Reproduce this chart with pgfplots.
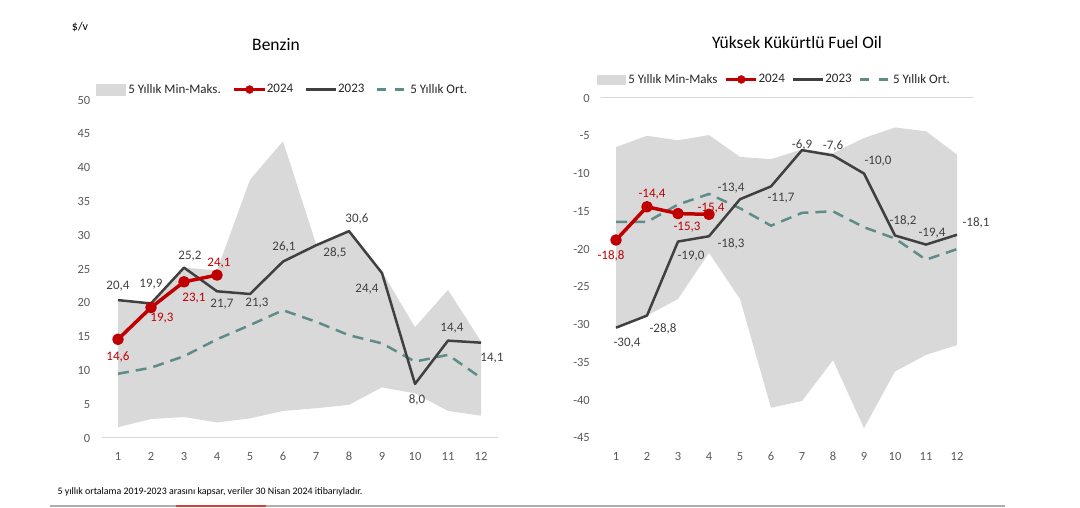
\documentclass[border=0pt]{standalone}
\usepackage{fontspec}
\setmainfont{Carlito}
\usepackage{pgfplots}
\pgfplotsset{compat=1.18}
\usepackage{pgfplotstable}
\usepgfplotslibrary{fillbetween}
\definecolor{bandc}{HTML}{D9D9D9}
\definecolor{red24}{HTML}{C00000}
\definecolor{dark23}{HTML}{404040}
\definecolor{avgc}{HTML}{5E8C88}
\definecolor{tickc}{HTML}{595959}
\definecolor{txtc}{HTML}{262626}
\definecolor{gridc}{HTML}{D9D9D9}
\definecolor{botgray}{HTML}{AFAFAF}
\definecolor{botred}{HTML}{C8463C}

% Benzin
\pgfplotstableread{
m max min avg
1 20.4 1.6 9.5
2 19.9 2.8 10.4
3 25.2 3.1 12.1
4 24.8 2.3 14.6
5 38.2 2.9 16.7
6 43.9 4.0 18.9
7 28.7 4.4 17.2
8 30.6 4.9 15.2
9 24.6 7.5 14.0
10 16.4 6.6 11.3
11 21.9 4.0 12.3
12 14.3 3.3 8.9
}\bband
\pgfplotstableread{
m v dx dy
1 20.4 0 15
2 19.9 0 20
3 25.2 6 12
4 21.7 5 -12
5 21.3 7 -8
6 26.1 1 15
7 28.5 19 -7
8 30.6 8 13
9 24.4 -15 -15
10 8.0 2 -15
11 14.4 4 13
12 14.1 11 -15
}\bA
\pgfplotstableread{
m v dx dy
1 14.6 0 -17
2 19.3 11 -10
3 23.1 10 -16
4 24.1 2 13
}\bB
% HSFO
\pgfplotstableread{
m max min avg
1 -6.5 -30.4 -16.4
2 -5.0 -28.8 -16.4
3 -5.6 -26.6 -14.1
4 -4.9 -20.5 -12.7
5 -7.8 -26.6 -14.6
6 -8.1 -41.0 -16.9
7 -6.8 -40.1 -15.2
8 -7.3 -34.7 -15.0
9 -5.3 -43.7 -17.1
10 -3.9 -36.2 -18.6
11 -4.4 -34.0 -21.4
12 -7.5 -32.7 -20.0
}\hband
\pgfplotstableread{
m v dx dy
1 -30.4 11 -15
2 -28.8 16 -13
3 -19.0 13 -14
4 -18.3 22 -7
5 -13.4 -9 12
6 -11.7 10 -11
7 -6.9 0 6
8 -7.6 0 10
9 -10.0 14 13
10 -18.2 8 15
11 -19.4 6 12
12 -18.1 19 12
}\hA
\pgfplotstableread{
m v dx dy
1 -18.8 -5 -15
2 -14.4 5 13
3 -15.3 9 -13
4 -15.4 2 7
}\hB

\pgfplotsset{
 lbl/.style={
  point meta=y,
  nodes near coords={\pgfmathprintnumber[use comma,fixed,fixed zerofill,precision=1,assume math mode=true]{\pgfplotspointmeta}},
  visualization depends on={\thisrow{dx}\as\dx},
  visualization depends on={\thisrow{dy}\as\dy},
  every node near coord/.style={anchor=base, inner sep=0pt, font=\fontsize{13}{13}\selectfont, text=#1, xshift={\dx*1pt}, yshift={(\dy-4.1)*1pt}},
 },
 common/.style={
  scale only axis, anchor=south west,
  xmin=0.5, xmax=12.5, xtick={1,...,12},
  axis line style={draw=none}, major tick length=0pt,
  /pgf/number format/assume math mode=true,
  ticklabel style={font=\fontsize{12.5}{12.5}\selectfont, text=tickc},
  xticklabel style={anchor=base, inner sep=0pt, yshift=-23pt},
  extra y ticks={0}, extra y tick labels={},
  extra y tick style={grid=major, major grid style={draw=gridc, line width=1pt}},
  clip=false,
  legend style={draw=none, fill=none, inner sep=0pt, outer sep=0pt, anchor=west,
    font=\fontsize{13}{13}\selectfont, text=txtc, nodes={inner sep=0pt}},
  legend columns=4,
 },
 l23/.style={dark23, line width=2.5pt, line join=round, mark=none},
 l24/.style={red24, line width=3.5pt, line join=round, mark=*, mark size=4pt, mark options={solid, fill=red24, draw=red24}},
 lavg/.style={avgc, line width=2.5pt, dash pattern=on 11pt off 7pt, mark=none},
}

\begin{document}
\begin{tikzpicture}[x=1pt,y=1pt]

% ---------------- Benzin ----------------
\begin{axis}[common,
  at={(101.5pt,70pt)}, width=396pt, height=338pt,
  ymin=0, ymax=50, ytick={0,5,...,50},
  yticklabel style={anchor=east, inner sep=0pt, xshift=-11pt},
  legend style={at={(-0.0139,1.0310)}, /tikz/every even column/.append style={column sep=11.5pt}},
]
\addlegendimage{legend image code/.code={\fill[bandc] (0pt,-5.5pt) rectangle (29pt,5.5pt); \path (32pt,0pt);}}
\addlegendentry{5 Yıllık Min-Maks.}
\addlegendimage{legend image code/.code={\draw[red24, line width=3.5pt] (0pt,0pt) -- (31pt,0pt); \fill[red24] (15.5pt,0pt) circle (4pt); \path (32pt,0pt);}}
\addlegendentry{2024}
\addlegendimage{legend image code/.code={\draw[dark23, line width=2.5pt] (0pt,0pt) -- (30pt,0pt); \path (32pt,0pt);}}
\addlegendentry{2023}
\addlegendimage{legend image code/.code={\draw[avgc, line width=2.5pt, dash pattern=on 9pt off 9pt] (0pt,0pt) -- (27pt,0pt); \path (33pt,0pt);}}
\addlegendentry{5 Yıllık Ort.}

\addplot[name path=bmax, draw=none, forget plot] table[x=m, y=max] {\bband};
\addplot[name path=bmin, draw=none, forget plot] table[x=m, y=min] {\bband};
\addplot[bandc, forget plot] fill between[of=bmax and bmin];
\addplot[lavg, forget plot] table[x=m, y=avg] {\bband};
\addplot[l23, forget plot, lbl=dark23] table[x=m, y=v] {\bA};
\addplot[l24, forget plot, lbl=red24] table[x=m, y=v] {\bB};
\end{axis}

% ---------------- HSFO ----------------
\begin{axis}[common,
  at={(600.5pt,70pt)}, width=372pt, height=340pt,
  ymin=-45, ymax=0, ytick={-45,-40,...,0},
  yticklabel style={anchor=east, inner sep=0pt, xshift=-10.5pt},
  legend style={at={(-0.0094,1.0545)}, /tikz/every even column/.append style={column sep=7pt}},
]
\addlegendimage{legend image code/.code={\fill[bandc] (0pt,-4.5pt) rectangle (28pt,4.5pt); \path (31pt,0pt);}}
\addlegendentry{5 Yıllık Min-Maks}
\addlegendimage{legend image code/.code={\draw[red24, line width=3.5pt] (0pt,0pt) -- (30pt,0pt); \fill[red24] (15pt,0pt) circle (4pt); \path (32pt,0pt);}}
\addlegendentry{2024}
\addlegendimage{legend image code/.code={\draw[dark23, line width=2.5pt] (0pt,0pt) -- (30pt,0pt); \path (32pt,0pt);}}
\addlegendentry{2023}
\addlegendimage{legend image code/.code={\draw[avgc, line width=2.5pt, dash pattern=on 9pt off 10pt] (0pt,0pt) -- (28pt,0pt); \path (33pt,0pt);}}
\addlegendentry{5 Yıllık Ort.}

\addplot[name path=hmax, draw=none, forget plot] table[x=m, y=max] {\hband};
\addplot[name path=hmin, draw=none, forget plot] table[x=m, y=min] {\hband};
\addplot[bandc, forget plot] fill between[of=hmax and hmin];
\addplot[lavg, forget plot] table[x=m, y=avg] {\hband};
\addplot[l23, forget plot, lbl=dark23] table[x=m, y=v] {\hA};
\addplot[l24, forget plot, lbl=red24] table[x=m, y=v] {\hB};
\end{axis}

% titles and notes
\node[font=\fontsize{17.5}{17.5}\selectfont, text=black] at (276,463) {Benzin};
\node[font=\fontsize{17.5}{17.5}\selectfont, text=black] at (797,466) {Yüksek Kükürtlü Fuel Oil};
\node[font=\fontsize{12}{12}\selectfont, text=black] at (80,481) {\$/v};
\node[anchor=west, font=\fontsize{9.9}{9.9}\selectfont, text=black] at (54,16) {5 yıllık ortalama 2019-2023 arasını kapsar, veriler 30 Nisan 2024 itibarıyladır.};
\draw[botgray, line width=2.5pt] (50,2) -- (1005,2);
\draw[botred, line width=2.5pt] (176,2) -- (266,2);

\pgfresetboundingbox
\path (0,0) rectangle (1080,508);
\end{tikzpicture}
\end{document}
